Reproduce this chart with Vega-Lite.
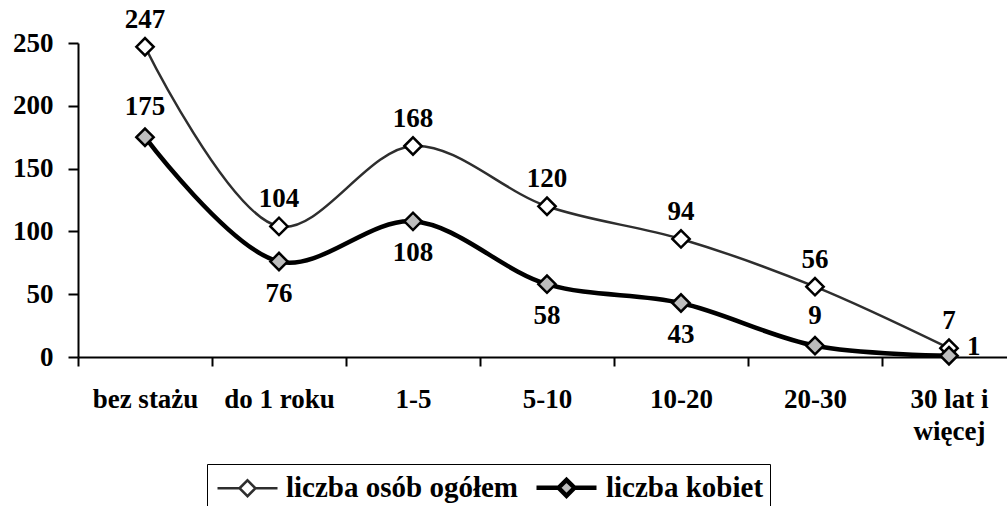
{
  "$schema": "https://vega.github.io/schema/vega-lite/v6.json",
  "width": 929,
  "height": 314,
  "autosize": "none",
  "padding": {"left": 78, "top": 43, "right": 0, "bottom": 149},
  "background": "white",
  "config": {"view": {"stroke": null}, "font": "Liberation Serif"},
  "data": {
    "values": [
      {"kat": "bez stażu", "seria": "liczba osób ogółem", "wartosc": 247},
      {"kat": "do 1 roku", "seria": "liczba osób ogółem", "wartosc": 104},
      {"kat": "1-5", "seria": "liczba osób ogółem", "wartosc": 168},
      {"kat": "5-10", "seria": "liczba osób ogółem", "wartosc": 120},
      {"kat": "10-20", "seria": "liczba osób ogółem", "wartosc": 94},
      {"kat": "20-30", "seria": "liczba osób ogółem", "wartosc": 56},
      {"kat": "30 lat i więcej", "seria": "liczba osób ogółem", "wartosc": 7},
      {"kat": "bez stażu", "seria": "liczba kobiet", "wartosc": 175},
      {"kat": "do 1 roku", "seria": "liczba kobiet", "wartosc": 76},
      {"kat": "1-5", "seria": "liczba kobiet", "wartosc": 108},
      {"kat": "5-10", "seria": "liczba kobiet", "wartosc": 58},
      {"kat": "10-20", "seria": "liczba kobiet", "wartosc": 43},
      {"kat": "20-30", "seria": "liczba kobiet", "wartosc": 9},
      {"kat": "30 lat i więcej", "seria": "liczba kobiet", "wartosc": 1}
    ]
  },
  "encoding": {
    "x": {
      "field": "kat",
      "type": "ordinal",
      "bandPosition": 0.5,
      "sort": ["bez stażu", "do 1 roku", "1-5", "5-10", "10-20", "20-30", "30 lat i więcej"],
      "scale": {"type": "band", "range": [0, 938], "paddingInner": 0, "paddingOuter": 0},
      "axis": {
        "title": null,
        "labelAngle": 0,
        "labelFont": "Liberation Serif",
        "labelFontSize": 27,
        "labelFontWeight": "bold",
        "labelColor": "black",
        "labelPadding": 20,
        "labelLimit": 300,
        "labelLineHeight": 32,
        "labelOverlap": false,
        "labelExpr": "datum.value === '30 lat i więcej' ? ['30 lat i', 'więcej'] : datum.value",
        "tickBand": "extent",
        "tickSize": 9,
        "tickWidth": 2,
        "tickColor": "black",
        "domainColor": "black",
        "domainWidth": 2,
        "grid": false
      }
    },
    "y": {
      "field": "wartosc",
      "type": "quantitative",
      "scale": {"domain": [0, 250], "nice": false},
      "axis": {
        "title": null,
        "values": [0, 50, 100, 150, 200, 250],
        "labelFont": "Liberation Serif",
        "labelFontSize": 27,
        "labelFontWeight": "bold",
        "labelColor": "black",
        "labelPadding": 15,
        "tickSize": 10,
        "tickWidth": 2,
        "tickColor": "black",
        "domainColor": "black",
        "domainWidth": 2,
        "grid": false
      }
    }
  },
  "layer": [
    {
      "mark": {"type": "line", "interpolate": "catmull-rom"},
      "encoding": {
        "color": {
          "field": "seria",
          "type": "nominal",
          "scale": {"domain": ["liczba osób ogółem", "liczba kobiet"], "range": ["#2e2e2e", "black"]},
          "legend": {
            "orient": "none",
            "legendX": 129,
            "legendY": 421,
            "direction": "horizontal",
            "title": null,
            "strokeColor": "black",
            "padding": 6,
            "symbolType": "M-2,0L-0.53,0M0.53,0L2,0M-0.53,0L0,-0.53L0.53,0L0,0.53Z",
            "symbolSize": 900,
            "symbolOffset": 18,
            "labelFont": "Liberation Serif",
            "labelFontSize": 29,
            "labelFontWeight": "bold",
            "labelColor": "black",
            "labelLimit": 400,
            "labelOffset": 22,
            "columnPadding": 9,
            "encode": {
              "symbols": {
                "update": {
                  "fill": {"signal": "datum.value === 'liczba kobiet' ? '#bdbdbd' : 'white'"},
                  "stroke": {"value": "black"},
                  "strokeWidth": {"signal": "datum.value === 'liczba kobiet' ? 4 : 2.5"},
                  "opacity": {"value": 1}
                }
              }
            }
          }
        },
        "strokeWidth": {
          "field": "seria",
          "type": "nominal",
          "scale": {"domain": ["liczba osób ogółem", "liczba kobiet"], "range": [2.5, 4.5]},
          "legend": null
        }
      }
    },
    {
      "mark": {"type": "point", "shape": "diamond", "filled": true, "size": 300, "stroke": "black", "strokeWidth": 2.5, "opacity": 1},
      "encoding": {
        "fill": {
          "field": "seria",
          "type": "nominal",
          "scale": {"domain": ["liczba osób ogółem", "liczba kobiet"], "range": ["white", "#bdbdbd"]},
          "legend": null
        }
      }
    },
    {
      "transform": [{"filter": {"field": "seria", "equal": "liczba osób ogółem"}}],
      "mark": {"type": "text", "dy": -27, "font": "Liberation Serif", "fontSize": 27, "fontWeight": "bold", "color": "black"},
      "encoding": {"text": {"field": "wartosc", "type": "quantitative"}}
    },
    {
      "transform": [{"filter": {"and": [{"field": "seria", "equal": "liczba kobiet"}, {"field": "kat", "oneOf": ["bez stażu", "20-30"]}]}}],
      "mark": {"type": "text", "dy": -30, "font": "Liberation Serif", "fontSize": 27, "fontWeight": "bold", "color": "black"},
      "encoding": {"text": {"field": "wartosc", "type": "quantitative"}}
    },
    {
      "transform": [{"filter": {"and": [{"field": "seria", "equal": "liczba kobiet"}, {"field": "kat", "oneOf": ["do 1 roku", "1-5", "5-10", "10-20"]}]}}],
      "mark": {"type": "text", "dy": 32, "font": "Liberation Serif", "fontSize": 27, "fontWeight": "bold", "color": "black"},
      "encoding": {"text": {"field": "wartosc", "type": "quantitative"}}
    },
    {
      "transform": [{"filter": {"and": [{"field": "seria", "equal": "liczba kobiet"}, {"field": "kat", "equal": "30 lat i więcej"}]}}],
      "mark": {"type": "text", "dx": 18, "dy": -9, "align": "left", "font": "Liberation Serif", "fontSize": 27, "fontWeight": "bold", "color": "black"},
      "encoding": {"text": {"field": "wartosc", "type": "quantitative"}}
    }
  ]
}
